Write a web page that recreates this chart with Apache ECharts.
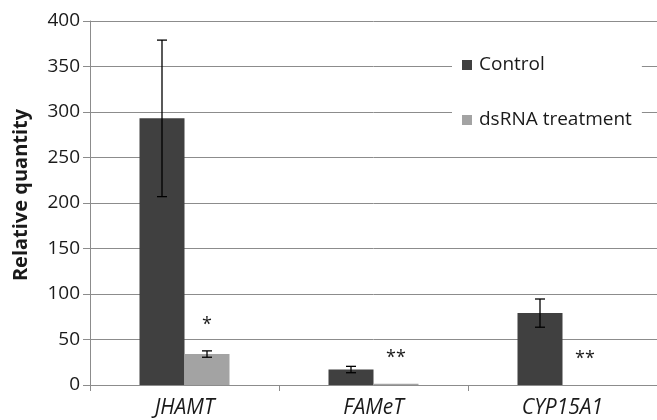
<!DOCTYPE html>
<html>
<head>
<meta charset="utf-8">
<script src="https://cdn.jsdelivr.net/npm/echarts@6/dist/echarts.min.js"></script>
<style>
html,body{margin:0;padding:0;background:#fff;}
#chart{width:657px;height:420px;}
</style>
</head>
<body>
<div id="chart"></div>
<script>
var categories = ['JHAMT', 'FAMeT', 'CYP15A1'];
var controlValues = [293, 17, 79];
var controlErrors = [86, 3.5, 15.5];
var treatmentValues = [34, 1.5, 0];
var treatmentErrors = [3.5, 0, 0];
var significance = ['*', '**', '**'];
var yTicks = [0, 50, 100, 150, 200, 250, 300, 350, 400];

var FONT = '"Open Sans", "DejaVu Sans", sans-serif';
var BAR_W = 45;
var GRID_COLOR = '#8c8c8c';

var errData = [];
for (var i = 0; i < categories.length; i++) {
  if (controlErrors[i] > 0) errData.push([i, controlValues[i] - controlErrors[i], controlValues[i] + controlErrors[i], -1]);
  if (treatmentErrors[i] > 0) errData.push([i, treatmentValues[i] - treatmentErrors[i], treatmentValues[i] + treatmentErrors[i], 1]);
}
var sigData = [];
for (var j = 0; j < categories.length; j++) {
  sigData.push([j, treatmentValues[j] + treatmentErrors[j], significance[j]]);
}

var chart = echarts.init(document.getElementById('chart'), null, {renderer: 'canvas'});
chart.setOption({
  animation: false,
  backgroundColor: '#fff',
  grid: {left: 90, top: 21, width: 570, height: 364, containLabel: false},
  legend: {
    orient: 'vertical',
    left: 452,
    top: 45,
    backgroundColor: '#fff',
    padding: [10, 10, 10, 10],
    itemGap: 35,
    itemWidth: 10,
    itemHeight: 10,
    icon: 'rect',
    textStyle: {fontFamily: FONT, fontSize: 19, lineHeight: 20, color: '#1a1a1a', padding: [0, 0, 0, 2]},
    data: ['Control', 'dsRNA treatment']
  },
  graphic: [{
    type: 'text',
    x: 21,
    y: 195,
    rotation: Math.PI / 2,
    style: {
      text: 'Relative quantity',
      font: 'bold 20px ' + FONT,
      fill: '#1a1a1a',
      textAlign: 'center',
      textVerticalAlign: 'middle'
    }
  }],
  xAxis: {
    type: 'category',
    data: categories,
    axisLine: {lineStyle: {color: GRID_COLOR, width: 1}},
    axisTick: {show: true, length: 6, lineStyle: {color: GRID_COLOR}},
    axisLabel: {fontFamily: FONT, fontSize: 21, fontStyle: 'italic', color: '#1a1a1a', margin: 13}
  },
  yAxis: {
    type: 'value',
    min: 0,
    max: 400,
    interval: 50,
    axisLine: {show: true, lineStyle: {color: GRID_COLOR, width: 1}},
    axisTick: {show: true, length: 7, lineStyle: {color: GRID_COLOR}},
    splitLine: {lineStyle: {color: GRID_COLOR, width: 1}},
    axisLabel: {fontFamily: FONT, fontSize: 19, color: '#1a1a1a', margin: 10,
      formatter: function (v) { return yTicks.indexOf(v) >= 0 ? String(v) : ''; }}
  },
  series: [
    {
      name: 'Control', type: 'bar', data: controlValues,
      barWidth: BAR_W, barGap: '0%',
      itemStyle: {color: '#404040'}
    },
    {
      name: 'dsRNA treatment', type: 'bar', data: treatmentValues,
      barWidth: BAR_W, barGap: '0%',
      itemStyle: {color: '#a3a3a3'}
    },
    {
      type: 'custom', name: 'err', data: errData, z: 10, silent: true,
      renderItem: function (params, api) {
        var c = api.value(0);
        var lo = api.coord([c, api.value(1)]);
        var hi = api.coord([c, api.value(2)]);
        var x = lo[0] + api.value(3) * BAR_W / 2;
        var hw = 5;
        var st = {stroke: '#000', lineWidth: 1.3};
        return {type: 'group', children: [
          {type: 'line', shape: {x1: x, y1: lo[1], x2: x, y2: hi[1]}, style: st},
          {type: 'line', shape: {x1: x - hw, y1: lo[1], x2: x + hw, y2: lo[1]}, style: st},
          {type: 'line', shape: {x1: x - hw, y1: hi[1], x2: x + hw, y2: hi[1]}, style: st}
        ]};
      }
    },
    {
      type: 'custom', name: 'sig', data: sigData, z: 10, silent: true,
      renderItem: function (params, api) {
        var c = api.value(0);
        var p = api.coord([c, api.value(1)]);
        var txt = significance[params.dataIndex];
        return {type: 'text', style: {
          x: p[0] + BAR_W / 2, y: p[1] - 26,
          text: txt, font: '18px ' + FONT, fill: '#1a1a1a',
          textAlign: 'center', textVerticalAlign: 'middle'
        }};
      }
    }
  ]
});
</script>
</body>
</html>
